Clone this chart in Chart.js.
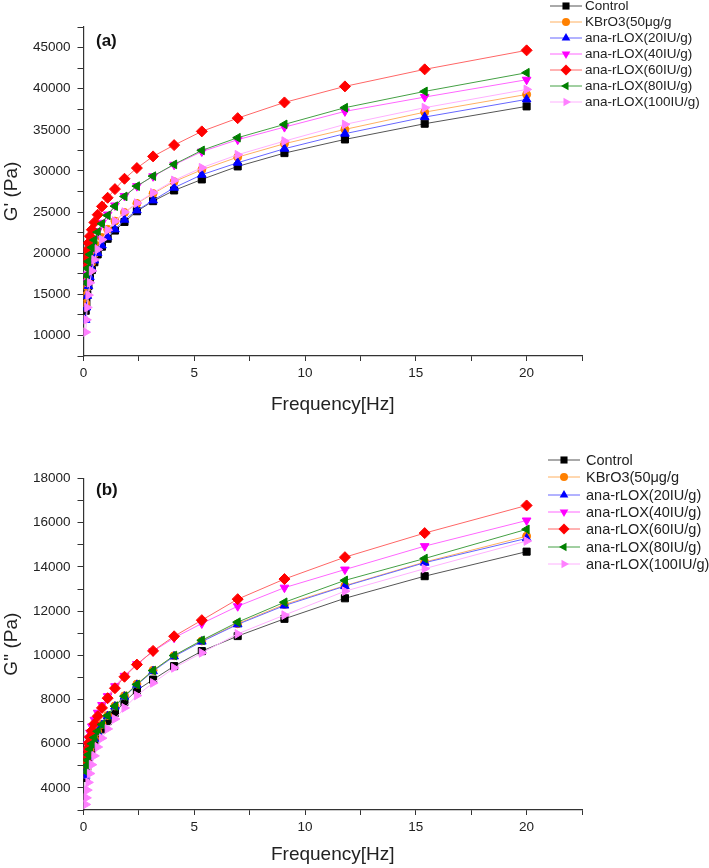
<!DOCTYPE html>
<html>
<head>
<meta charset="utf-8">
<script src="https://cdn.jsdelivr.net/npm/chart.js@4/dist/chart.umd.min.js"></script>
<style>
    body { margin: 0; background: #fff; font-family: 'Liberation Sans', Arial, sans-serif; }
    #wrap { position: relative; width: 709px; height: 868px; overflow: hidden; }
    .panel { position: absolute; left: 0; width: 709px; }
    .tag { position: absolute; font-weight: bold; font-size: 17px; color: #111; }
    .legend { position: absolute; left: 0; top: 0; }
    .legend-row { position: absolute; height: 16px; white-space: nowrap; color: #222; }
    .legend-row svg { position: absolute; top: 0; }
    .legend-row span { position: absolute; top: 0; line-height: 16px; }
</style>
</head>
<body>
<div id="wrap">
    <div class="panel" style="top:0; height:432px"><canvas id="chartA"></canvas></div>
    <div class="panel" style="top:432px; height:436px"><canvas id="chartB"></canvas></div>
    <div class="tag" style="left:96px; top:31px">(a)</div>
    <div class="tag" style="left:96px; top:480px">(b)</div>
    <div id="legendA" class="legend"></div>
    <div id="legendB" class="legend"></div>
</div>
<script>
// frequency sweep, Hz
const freq = [0.1, 0.13, 0.17, 0.222, 0.289, 0.377, 0.491, 0.64, 0.834, 1.09, 1.42, 1.85, 2.41, 3.14, 4.09, 5.34, 6.96, 9.07, 11.8, 15.4, 20];

const seriesNames = ['Control', 'KBrO3(50μg/g', 'ana-rLOX(20IU/g)', 'ana-rLOX(40IU/g)', 'ana-rLOX(60IU/g)', 'ana-rLOX(80IU/g)', 'ana-rLOX(100IU/g)'];

// (a) storage modulus G' (Pa)
const storageControl = [13000, 14000, 15000, 16000, 17000, 17950, 18900, 19850, 20800, 21750, 22750, 23800, 25100, 26330, 27630, 28970, 30550, 32170, 33830, 35740, 37850];
const storageKBrO3   = [13900, 14900, 15900, 16900, 17900, 18900, 19900, 20900, 21900, 22900, 23900, 24950, 26050, 27250, 28700, 30140, 31680, 33310, 35050, 37150, 39300];
const storageLox20   = [11900, 13400, 14800, 16000, 17100, 18100, 19120, 20010, 20940, 21950, 22890, 24070, 25200, 26420, 27960, 29540, 31000, 32700, 34530, 36550, 38700];
const storageLox40   = [16500, 17400, 18300, 19150, 20000, 20850, 21750, 22700, 23700, 24700, 25800, 26950, 28150, 29350, 30750, 32350, 33800, 35330, 37240, 38980, 41090];
const storageLox60   = [18800, 19600, 20400, 21220, 22070, 22850, 23740, 24680, 25690, 26740, 27790, 29050, 30350, 31770, 33140, 34810, 36420, 38330, 40280, 42350, 44660];
const storageLox80   = [16400, 17300, 18150, 19000, 19850, 20700, 21600, 22560, 23580, 24590, 25720, 26900, 28150, 29370, 30800, 32500, 34040, 35660, 37690, 39670, 41940];
const storageLox100  = [10400, 11900, 13400, 14900, 16400, 17850, 19200, 20450, 21650, 22800, 23900, 25000, 26090, 27350, 28850, 30390, 31970, 33630, 35660, 37690, 39910];

// (b) loss modulus G'' (Pa)
const lossControl = [4450, 4700, 4950, 5200, 5480, 5750, 6030, 6330, 6650, 7020, 7400, 7890, 8420, 8900, 9510, 10190, 10870, 11650, 12580, 13580, 14690];
const lossKBrO3   = [4600, 4860, 5130, 5400, 5670, 5950, 6240, 6540, 6880, 7280, 7710, 8170, 8700, 9320, 9980, 10650, 11430, 12300, 13150, 14220, 15390];
const lossLox20   = [4550, 4830, 5100, 5370, 5650, 5930, 6220, 6520, 6850, 7250, 7680, 8130, 8660, 9280, 9950, 10620, 11400, 12250, 13130, 14190, 15290];
const lossLox40   = [5450, 5700, 5970, 6230, 6500, 6780, 7080, 7400, 7750, 8150, 8600, 9070, 9600, 10180, 10790, 11440, 12220, 13060, 13880, 14940, 16100];
const lossLox60   = [5250, 5500, 5760, 6020, 6300, 6590, 6900, 7240, 7620, 8060, 8510, 9030, 9580, 10200, 10860, 11590, 12540, 13450, 14440, 15530, 16780];
const lossLox80   = [4750, 5000, 5250, 5500, 5750, 6000, 6280, 6560, 6870, 7270, 7700, 8150, 8680, 9310, 9990, 10680, 11500, 12400, 13390, 14380, 15700];
const lossLox100  = [3250, 3550, 3900, 4250, 4650, 5050, 5450, 5850, 6250, 6670, 7120, 7620, 8180, 8750, 9430, 10110, 10970, 11820, 12900, 13920, 15170];

// marker / line styling per series
const markerColors = ['#000000', '#FF8000', '#0000FF', '#FF00FF', '#FF0000', '#008000', '#FF80FF'];
const lineColors = ['#555555', '#FFB060', '#6666FF', '#FF66FF', '#FF6666', '#44A044', '#FFB0FF'];
const pointStyles = ['rect', 'circle', 'triangle', 'triangle', 'rectRot', 'triangle', 'triangle'];
const pointRotations = [0, 0, 0, 180, 0, 270, 90];
const pointRadii = [5, 4, 5, 5, 5.5, 5, 5];

Chart.defaults.font.family = "'Liberation Sans', Arial, sans-serif";
Chart.defaults.color = '#222';

function makeDatasets(rows) {
    return rows.map((vals, i) => ({
        label: seriesNames[i],
        data: freq.map((f, j) => ({ x: f, y: vals[j] })),
        showLine: true,
        tension: 0,
        borderColor: lineColors[i],
        borderWidth: 1,
        backgroundColor: markerColors[i],
        pointBackgroundColor: markerColors[i],
        pointBorderColor: markerColors[i],
        pointBorderWidth: 1,
        pointStyle: pointStyles[i],
        pointRotation: pointRotations[i],
        pointRadius: pointRadii[i],
        order: rows.length - 1 - i // later series on top, like Origin
    }));
}

function makeChart(id, rows, cfg) {
    const ctx = document.getElementById(id);
    return new Chart(ctx, {
        type: 'scatter',
        data: { datasets: makeDatasets(rows) },
        options: {
            responsive: true,
            maintainAspectRatio: false,
            animation: false,
            events: [],
            layout: { padding: { left: 0, right: 127, top: cfg.padTop, bottom: cfg.padBottom } },
            plugins: { legend: { display: false }, tooltip: { enabled: false } },
            scales: {
                x: {
                    type: 'linear',
                    min: 0,
                    max: 22.5,
                    ticks: {
                        stepSize: 2.5,
                        autoSkip: false,
                        maxRotation: 0,
                        padding: 4,
                        font: { size: 13.5 },
                        callback: v => (v % 5 === 0 ? String(v) : '')
                    },
                    grid: { drawOnChartArea: false, drawTicks: true, tickLength: 5, color: '#333' },
                    border: { color: '#333', width: 1.2 },
                    title: { display: true, text: 'Frequency[Hz]', font: { size: 19 }, padding: 0 },
                    afterFit: s => { s.height = cfg.xAxisH; s.paddingLeft = 0; s.paddingRight = 0; }
                },
                y: {
                    type: 'linear',
                    min: cfg.yMin,
                    max: cfg.yMax,
                    ticks: {
                        stepSize: cfg.yStep,
                        autoSkip: false,
                        padding: 7,
                        font: { size: 13.5 },
                        callback: v => (cfg.yLabels.includes(v) ? String(v) : '')
                    },
                    grid: { drawOnChartArea: false, drawTicks: true, tickLength: 6, color: '#333' },
                    border: { color: '#333', width: 1.2 },
                    title: { display: true, text: cfg.yTitle, font: { size: 19 }, padding: 0 },
                    afterFit: s => { s.width = 83.5; s.paddingTop = 0; s.paddingBottom = 0; }
                }
            }
        }
    });
}

// G' axis: 7500..47500, labels every 5000
const yTicksA = [10000, 15000, 20000, 25000, 30000, 35000, 40000, 45000];
// G'' axis: 3000..18000, labels every 2000
const yTicksB = [4000, 6000, 8000, 10000, 12000, 14000, 16000, 18000];

makeChart('chartA',
    [storageControl, storageKBrO3, storageLox20, storageLox40, storageLox60, storageLox80, storageLox100],
    { padTop: 27, padBottom: 15.5, xAxisH: 60.5, yMin: 7500, yMax: 47500, yStep: 2500, yLabels: yTicksA, yTitle: "G' (Pa)" });

makeChart('chartB',
    [lossControl, lossKBrO3, lossLox20, lossLox40, lossLox60, lossLox80, lossLox100],
    { padTop: 46.5, padBottom: 1.6, xAxisH: 56.4, yMin: 3000, yMax: 18000, yStep: 1000, yLabels: yTicksB, yTitle: "G'' (Pa)" });

// legend keys: line + marker, drawn as small svg next to real text
function markerSvg(i, cx, cy) {
    const c = markerColors[i];
    const r = pointRadii[i];
    if (pointStyles[i] === 'rect') {
        const h = r * Math.SQRT1_2;
        return `<rect x="${cx - h}" y="${cy - h}" width="${2 * h}" height="${2 * h}" fill="${c}"/>`;
    }
    if (pointStyles[i] === 'circle') return `<circle cx="${cx}" cy="${cy}" r="${r}" fill="${c}"/>`;
    if (pointStyles[i] === 'rectRot') {
        return `<polygon points="${cx},${cy - r} ${cx + r},${cy} ${cx},${cy + r} ${cx - r},${cy}" fill="${c}"/>`;
    }
    const pts = [0, 120, 240].map(a => {
        const rad = (a + pointRotations[i]) * Math.PI / 180;
        return `${cx + Math.sin(rad) * r},${cy - Math.cos(rad) * r}`;
    }).join(' ');
    return `<polygon points="${pts}" fill="${c}"/>`;
}

function renderLegend(id, cfg) {
    const html = seriesNames.map((name, i) => {
        const top = cfg.top + cfg.step * i - 8;
        return `<div class="legend-row" style="left:${cfg.lineX}px; top:${top}px; font-size:${cfg.fontSize}px">
            <svg width="36" height="16" style="left:0">
                <line x1="0" y1="8" x2="${cfg.lineW}" y2="8" stroke="${lineColors[i]}" stroke-width="1"/>
                ${markerSvg(i, cfg.markX, 8)}
            </svg>
            <span style="left:${cfg.textX}px">${name}</span>
        </div>`;
    }).join('');
    document.getElementById(id).innerHTML = html;
}

renderLegend('legendA', { top: 5.5, step: 16.1, lineX: 550, lineW: 32, markX: 16, textX: 35, fontSize: 13.5 });
renderLegend('legendB', { top: 460, step: 17.3, lineX: 548, lineW: 32, markX: 16, textX: 38, fontSize: 14.5 });
</script>
</body>
</html>
